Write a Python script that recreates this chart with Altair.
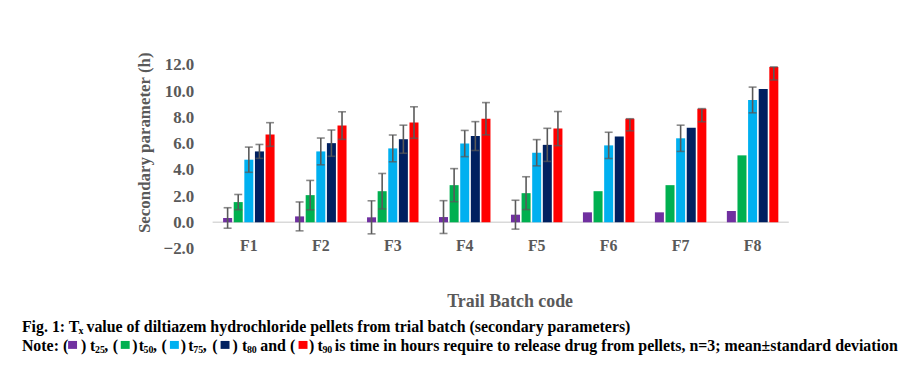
import altair as alt
import pandas as pd

batches = ["F1", "F2", "F3", "F4", "F5", "F6", "F7", "F8"]
series = ["t25", "t50", "t75", "t80", "t90"]
colors = ["#7030A0", "#00B050", "#00B0F0", "#002060", "#FF0000"]

t25 = [0.33, 0.45, 0.38, 0.40, 0.58, 0.76, 0.76, 0.86]
t50 = [1.54, 2.07, 2.37, 2.83, 2.22, 2.37, 2.83, 5.10]
t75 = [4.77, 5.40, 5.63, 6.00, 5.30, 5.86, 6.40, 9.32]
t80 = [5.40, 6.03, 6.33, 6.57, 5.90, 6.54, 7.20, 10.15]
t90 = [6.69, 7.37, 7.60, 7.89, 7.14, 7.89, 8.66, 11.84]

# error below / above the mean (None = no error bar drawn)
t25_lo = [0.78, 1.10, 1.26, 1.25, 1.10, None, None, None]
t25_hi = [0.78, 1.10, 1.26, 1.25, 1.10, None, None, None]
t50_lo = [0.58, 1.12, 1.35, 1.26, 1.25, None, None, None]
t50_hi = [0.58, 1.12, 1.35, 1.26, 1.25, None, None, None]
t75_lo = [0.96, 1.02, 1.02, 1.00, 1.00, 1.00, 1.00, 0.98]
t75_hi = [0.96, 1.02, 1.02, 1.00, 1.00, 1.00, 1.00, 0.98]
t80_lo = [0.53, 1.00, 1.07, 1.10, 1.26, None, None, None]
t80_hi = [0.53, 1.00, 1.07, 1.10, 1.26, None, None, None]
t90_lo = [0.90, 1.05, 1.20, 1.23, 1.30, 0.92, 1.00, 1.00]
t90_hi = [0.90, 1.05, 1.20, 1.23, 1.30, 0.00, 0.00, 0.00]

y_ticks = [-2, 0, 2, 4, 6, 8, 10, 12]

vals = {"t25": t25, "t50": t50, "t75": t75, "t80": t80, "t90": t90}
los = {"t25": t25_lo, "t50": t50_lo, "t75": t75_lo, "t80": t80_lo, "t90": t90_lo}
his = {"t25": t25_hi, "t50": t50_hi, "t75": t75_hi, "t80": t80_hi, "t90": t90_hi}

rows = []
for s in series:
    for i, b in enumerate(batches):
        v = vals[s][i]
        lo = los[s][i]
        hi = his[s][i]
        rows.append({
            "batch": b, "series": s, "value": v,
            "lo": None if lo is None else v - lo,
            "hi": None if hi is None else v + hi,
        })
df = pd.DataFrame(rows)
err = df.dropna(subset=["lo"]).copy()

FONT = "Liberation Serif"
GREY = "#595959"

x_enc = alt.X(
    "batch:N", sort=batches,
    scale=alt.Scale(paddingInner=0.27, paddingOuter=0.138),
    axis=alt.Axis(
        title="Trail Batch code", domain=False, ticks=False, grid=False,
        labelAngle=0, labelFont=FONT, labelFontWeight="bold", labelFontSize=16,
        labelColor=GREY, labelBaseline="middle", labelPadding=-3,
        titleFont=FONT, titleFontWeight="bold", titleFontSize=18, titleColor=GREY,
        titleX=299, titleY=53, titleBaseline="middle", titleAlign="center",
    ),
)
xoff_enc = alt.XOffset("series:N", sort=series,
                       scale=alt.Scale(paddingInner=0.15, paddingOuter=0.05))
y_scale = alt.Scale(domain=[-2, 12], nice=False, zero=False)
y_axis = alt.Axis(
    title="Secondary parameter (h)", values=y_ticks, format=".1f",
    domain=False, ticks=False, grid=False, labelPadding=19,
    labelFont=FONT, labelFontWeight="bold", labelFontSize=17, labelColor=GREY,
    titleFont=FONT, titleFontWeight="bold", titleFontSize=17, titleColor=GREY,
    titleX=-69, titleY=78, titleAngle=270, titleAlign="center", titleBaseline="middle",
)

zero_line = alt.Chart(pd.DataFrame({"v": [0]})).mark_rule(
    color="#d9d9d9", strokeWidth=1.5
).encode(y=alt.Y("v:Q", scale=y_scale, axis=y_axis), x=alt.value(0), x2=alt.value(580))

bars = alt.Chart(df).mark_bar().encode(
    x=x_enc, xOffset=xoff_enc,
    y=alt.Y("value:Q", scale=y_scale, axis=y_axis),
    color=alt.Color("series:N", scale=alt.Scale(domain=series, range=colors), legend=None),
)

rules = alt.Chart(err).mark_rule(color=GREY, strokeWidth=1.6).encode(
    x=x_enc, xOffset=xoff_enc, y=alt.Y("lo:Q", scale=y_scale, axis=y_axis), y2="hi:Q"
)
cap_lo = alt.Chart(err).mark_tick(color=GREY, size=8, thickness=1.6, orient="horizontal").encode(
    x=x_enc, xOffset=xoff_enc, y=alt.Y("lo:Q", scale=y_scale, axis=y_axis)
)
cap_hi = alt.Chart(err).mark_tick(color=GREY, size=8, thickness=1.6, orient="horizontal").encode(
    x=x_enc, xOffset=xoff_enc, y=alt.Y("hi:Q", scale=y_scale, axis=y_axis)
)

# caption (page coordinates converted to view coordinates)
OX, OY = 214, 64
L1, L2 = 333, 352
FS, SS = 16, 10
SUB = 2.5
caption_segments = [
    ("Fig. 1: T", 22, L1, FS), ("x", 79, L1 + SUB, SS),
    ("value of diltiazem hydrochloride pellets from trial batch (secondary parameters)", 87, L1, FS),
    ("Note: (", 22, L2, FS), (")", 81.5, L2, FS),
    ("t", 90.5, L2, FS), ("25", 95.5, L2 + SUB, SS), (",", 105, L2, FS), ("(", 113.5, L2, FS),
    (")", 133, L2, FS),
    ("t", 139.5, L2, FS), ("50", 144.5, L2 + SUB, SS), (",", 154, L2, FS), ("(", 162.5, L2, FS),
    (")", 182, L2, FS),
    ("t", 189.5, L2, FS), ("75", 194.5, L2 + SUB, SS), (",", 204, L2, FS), ("(", 213.5, L2, FS),
    (")", 234, L2, FS),
    ("t", 243.5, L2, FS), ("80", 248.5, L2 + SUB, SS), ("and (", 262, L2, FS),
    (")", 311, L2, FS),
    ("t", 319.5, L2, FS), ("90", 324.5, L2 + SUB, SS),
    ("is time in hours require to release drug from pellets, n=3; mean\u00b1standard deviation", 337, L2, FS),
]
square_pos = [68.5, 121.5, 171, 222, 300.5]

layers = [zero_line, bars, rules, cap_lo, cap_hi]
dummy = pd.DataFrame({"d": [0]})
for txt, px, py, fs in caption_segments:
    layers.append(
        alt.Chart(dummy).mark_text(
            text=txt, font=FONT, fontWeight="bold", fontSize=fs, color="black",
            align="left", baseline="alphabetic",
        ).encode(x=alt.value(px - OX), y=alt.value(py - OY))
    )
for px, c in zip(square_pos, colors):
    layers.append(
        alt.Chart(dummy).mark_rect(color=c).encode(
            x=alt.value(px - OX), x2=alt.value(px + 9 - OX),
            y=alt.value(L2 - 10 - OY), y2=alt.value(L2 - 2 - OY),
        )
    )

chart = alt.layer(*layers).properties(
    width=580, height=185,
    autosize=alt.AutoSizeParams(type="none"),
    padding={"left": 206, "top": 56, "right": 120, "bottom": 108},
    background="white",
).configure_view(stroke=None)

chart.save("out.html", embed_options={"renderer": "svg", "actions": False})
